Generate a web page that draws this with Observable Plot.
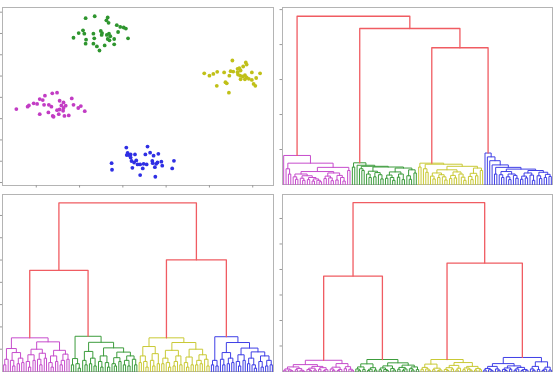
<!DOCTYPE html>
<html><head><meta charset="utf-8">
<script src="https://cdn.jsdelivr.net/npm/d3@7"></script>
<script src="https://cdn.jsdelivr.net/npm/@observablehq/plot@0.6"></script>
<style>
body{margin:0;background:#fff;}
#wrap{position:relative;width:558px;height:375px;overflow:hidden;background:#fff;}
.panel{position:absolute;}
</style></head><body><div id="wrap"></div>
<script>
// ---------- scatter data (four blobs) ----------
const magentaX=[-1.63,-1.52,-1.80,-1.92,-1.85,-2.06,-2.17,-2.20,-2.46,-1.46,-1.37,-1.18,-1.82,-1.71,-1.65,-1.42,-1.32,-1.14,-0.97,-1.03,-0.88,-1.46,-1.38,-1.37,-1.92,-1.72,-1.62,-1.60,-1.48,-1.35,-1.25,-1.98,-1.52];
const magentaY=[0.19,0.22,0.08,-0.08,-0.13,-0.28,-0.38,-0.44,-0.55,-0.16,-0.24,-0.05,-0.35,-0.35,-0.44,-0.38,-0.39,-0.35,-0.41,-0.50,-0.65,-0.57,-0.63,-0.50,-0.79,-0.71,-0.87,-0.91,-0.79,-0.87,-0.85,-0.31,-0.60];
const greenX=[-0.86,-0.65,-0.35,-0.38,-0.33,-0.14,-0.06,0.02,0.07,-0.11,-0.92,-1.02,-1.14,-0.85,-0.86,-0.68,-0.66,-0.51,-0.48,-0.49,-0.37,-0.32,-0.29,-0.35,-0.31,-0.20,0.12,-0.68,-0.60,-0.54,-0.42,-0.20,-0.89];
const greenY=[3.72,3.81,3.75,3.62,3.50,3.39,3.31,3.28,3.23,3.07,3.15,3.02,2.80,2.71,2.52,2.99,2.77,3.12,3.02,2.93,2.93,2.99,2.87,2.74,2.68,2.74,2.77,2.52,2.39,2.20,2.44,2.49,2.99];
const yellowX=[2.53,2.84,2.86,2.78,2.65,2.69,2.55,2.72,1.88,2.00,2.09,2.18,2.34,2.46,2.66,2.71,2.77,2.82,2.86,2.98,3.17,3.08,2.98,2.91,2.82,2.72,2.49,2.37,2.40,2.17,3.02,3.06,2.45,2.65];
const yellowY=[1.73,1.64,1.54,1.45,1.34,1.37,1.21,1.26,1.13,1.02,1.10,1.20,1.17,1.02,1.07,1.02,0.98,1.04,0.94,1.17,1.13,0.91,0.82,0.87,0.85,0.85,1.23,0.71,0.66,0.54,0.63,0.54,0.22,1.18];
const blueX=[0.08,0.57,0.11,0.14,0.18,0.28,0.52,0.63,0.71,0.82,0.18,0.20,0.31,0.26,0.40,0.48,0.55,0.68,0.69,0.77,0.80,0.89,0.91,-0.26,-0.25,0.22,0.46,0.74,1.14,1.18,0.40,0.75,0.34,0.09];
const blueY=[-2.36,-2.31,-2.61,-2.71,-2.68,-2.68,-2.68,-2.60,-2.74,-2.65,-2.83,-2.99,-2.96,-3.06,-3.15,-3.12,-3.15,-2.99,-3.09,-3.12,-3.06,-3.02,-3.21,-3.09,-3.40,-3.31,-3.34,-3.28,-3.34,-2.98,-3.65,-3.73,-3.15,-2.71];
const scatterXTicks=[-2,-1,0,1,2,3];
const scatterYTicks=[-4,-3,-2,-1,0,1,2,3,4];

// ---------- dendrograms: node = [height, left, right], leaf = 0 ----------
// single linkage (top right)
const singleTop=[4.81,"m",[4.46,"g",[3.91,"y","b"]]];
const singleM=[0.83,0,[0.61,[0.45,0,[0.3,0,0]],[0.49,[0.37,[0.3,[0.22,0,[0.15,0,0]],[0.25,[0.18,0,[0.12,0,0]],[0.2,[0.14,0,0],[0.16,[0.1,0,0],[0.12,0,[0.08,0,0]]]]]],[0.33,[0.24,[0.17,0,0],[0.19,0,[0.11,0,0]]],[0.26,[0.13,0,0],[0.2,0,[0.1,0,0]]]]],[0.4,0,0]]]];
const singleG=[0.62,[0.5,0,0],[0.55,0,[0.52,[0.45,0,[0.4,0,0]],[0.5,[0.38,[0.3,0,[0.2,0,0]],[0.34,[0.22,0,0],[0.28,0,[0.16,0,0]]]],[0.47,[0.36,[0.27,[0.18,0,0],[0.2,0,[0.12,0,0]]],[0.3,[0.21,0,0],[0.14,0,0]]],[0.42,[0.25,0,[0.15,0,0]],[0.33,0,0]]]]]]];
const singleY=[0.61,[0.5,0,0],[0.58,[0.45,0,[0.35,0,0]],[0.52,[0.42,[0.33,[0.24,0,[0.16,0,0]],[0.28,[0.2,0,0],[0.22,0,[0.13,0,0]]]],[0.36,[0.26,[0.17,0,0],[0.19,0,0]],[0.3,0,[0.21,0,[0.12,0,0]]]]],[0.47,[0.32,[0.23,0,[0.14,0,0]],[0.25,0,0]],[0.4,0,0]]]]];
const singleB=[0.9,0,[0.79,0,[0.68,0,[0.56,0,[0.49,[0.3,0,0],[0.44,[0.37,[0.28,0,[0.2,0,0]],[0.3,[0.22,0,[0.14,0,0]],[0.26,0,[0.18,0,0]]]],[0.4,[0.33,[0.24,[0.15,0,0],[0.19,0,0]],[0.27,0,[0.12,0,0]]],[0.35,[0.25,0,[0.17,0,0]],[0.29,[0.2,0,0],[0.23,0,0]]]]]]]]]];
const singleTicks=[1,2,3,4,5];

// complete linkage (bottom left)
const completeTop=[7.56,[4.54,"m","g"],[5.01,"y","b"]];
const completeM=[1.51,[1.03,[0.55,[0.3,0,0],0],[0.85,[0.5,0,[0.25,0,0]],[0.6,[0.35,0,0],[0.4,0,0]]]],[1.33,[1.0,[0.75,[0.45,0,[0.2,0,0]],[0.5,0,0]],[0.82,[0.55,0,[0.3,0,0]],[0.6,0,0]]],[0.95,[0.7,[0.4,0,[0.2,0,0]],[0.45,0,0]],[0.78,[0.5,[0.3,0,0],0],[0.55,0,0]]]]];
const completeG=[1.58,[0.58,[0.3,0,0],[0.35,0,[0.15,0,0]]],[1.31,[0.9,[0.5,0,[0.3,0,0]],[0.6,[0.35,0,0],[0.25,0,0]]],[1.06,[0.7,[0.45,0,[0.2,0,0]],[0.4,0,[0.2,0,0]]],[0.87,[0.62,[0.35,0,[0.25,0,0]],[0.45,0,0]],[0.7,[0.5,[0.3,0,0],[0.25,0,0]],[0.55,0,[0.3,0,0]]]]]]];
const completeY=[1.51,[1.12,[0.7,[0.4,0,0],[0.45,0,[0.2,0,0]]],[0.8,[0.5,0,[0.25,0,0]],[0.35,0,0]]],[1.3,[0.95,[0.6,[0.35,0,0],[0.4,0,[0.2,0,0]]],[0.7,[0.45,[0.25,0,0],0],[0.3,0,0]]],[1.0,[0.65,[0.4,0,[0.2,0,0]],[0.3,0,0]],[0.75,[0.5,[0.3,0,0],[0.35,0,0]],[0.55,0,[0.25,0,0]]]]]];
const completeB=[1.56,[0.5,[0.3,0,0],[0.25,0,0]],[1.3,[0.85,[0.55,0,[0.3,0,0]],[0.6,[0.35,0,0],[0.4,0,0]]],[1.05,[0.75,[0.45,0,[0.25,0,0]],[0.5,0,0]],[0.88,[0.6,[0.35,0,0],[0.3,0,[0.15,0,0]]],[0.7,[0.45,0,[0.2,0,0]],[0.5,[0.25,0,0],[0.3,0,0]]]]]]];
const completeTicks=[1,2,3,4,5,6,7];

// ward linkage (bottom right)
const wardTop=[6.62,[3.74,"m","g"],[4.25,"y","b"]];
const wardM=[0.44,[0.27,[0.18,[0.1,[0.05,0,0],[0.06,0,[0.03,0,0]]],[0.12,[0.07,0,0],[0.05,0,[0.02,0,0]]]],[0.2,[0.13,[0.08,0,[0.04,0,0]],[0.06,0,0]],[0.15,[0.09,0,0],[0.07,[0.03,0,0],0]]]],[0.31,[0.17,[0.1,0,[0.05,0,0]],[0.08,[0.04,0,0],0]],[0.19,[0.11,0,0],[0.09,0,[0.05,0,0]]]]];
const wardG=[0.47,[0.3,[0.18,[0.1,0,[0.05,0,0]],[0.08,0,0]],[0.15,[0.09,[0.04,0,0],0],[0.06,0,0]]],[0.34,[0.22,[0.14,[0.07,0,0],[0.08,0,[0.04,0,0]]],[0.12,0,[0.06,0,0]]],[0.25,[0.16,[0.09,0,0],[0.1,[0.05,0,0],0]],[0.18,[0.11,0,[0.06,0,0]],[0.08,0,0]]]]];
const wardY=[0.47,[0.29,[0.16,[0.09,0,0],[0.1,0,[0.05,0,0]]],[0.13,[0.07,0,0],[0.06,[0.03,0,0],0]]],[0.35,[0.24,[0.15,[0.08,0,[0.04,0,0]],[0.1,0,0]],[0.13,[0.06,0,0],0]],[0.2,[0.14,[0.07,0,0],[0.09,0,[0.05,0,0]]],[0.12,[0.06,0,0],[0.07,0,0]]]]];
const wardB=[0.55,[0.31,[0.2,[0.12,[0.06,0,0],[0.07,0,[0.03,0,0]]],[0.1,0,[0.05,0,0]]],[0.22,[0.14,[0.08,0,[0.04,0,0]],[0.09,0,0]],[0.16,[0.1,[0.05,0,0],0],[0.08,[0.04,0,0],[0.05,0,0]]]]],[0.38,[0.2,[0.1,0,[0.05,0,0]],[0.08,0,0]],[0.17,[0.09,[0.04,0,0],0],[0.06,0,0]]]];
const wardTicks=[1,2,3,4,5,6];

// ---------- styling ----------
const dotColors={m:"#c23cc4",g:"#2e952e",y:"#c0c018",b:"#2f2fe4"};
const lineColors={m:"#c64ccc",g:"#3c9c3c",y:"#c9c935",b:"#3f3fe6"};
const linkRed="#f05c62";
const frameColor="#b4b4b4";
const wrap=document.getElementById("wrap");

function dendroRows(top,subtrees){
  const rows=[];let leaf=0,id=0;
  function walk(node,key){
    if(typeof node==="string") return walk(subtrees[node],node);
    if(node===0){const x=leaf*10+5;leaf++;return {x,h:0};}
    const [h,L,R]=node;
    const a=walk(L,key),b=walk(R,key);
    const c=key?lineColors[key]:linkRed,w=key?1:1.3,k=id++;
    rows.push({k,x:a.x,y:a.h,c,w},{k,x:a.x,y:h,c,w},{k,x:b.x,y:h,c,w},{k,x:b.x,y:b.h,c,w});
    return {x:(a.x+b.x)/2,h};
  }
  walk(top,null);
  return {rows,n:leaf};
}

function place(left,top,svg){
  const d=document.createElement("div");d.className="panel";
  d.style.left=left+"px";d.style.top=top+"px";d.append(svg);wrap.append(d);
}

// ---------- scatter panel ----------
const pts=[];
[["m",magentaX,magentaY],["g",greenX,greenY],["y",yellowX,yellowY],["b",blueX,blueY]]
  .forEach(([k,xs,ys])=>d3.zip(xs,ys).forEach(([x,y])=>pts.push({x,y,c:dotColors[k]})));
place(0,0,Plot.plot({
  width:279,height:190,marginLeft:2,marginRight:6,marginTop:7,marginBottom:5,
  x:{domain:[-2.78,3.48],label:null},y:{domain:[-4.14,4.22],label:null},
  color:{type:"identity"},
  marks:[
    Plot.frame({stroke:frameColor}),
    Plot.axisX(scatterXTicks,{tickSize:2.5,tickFormat:()=>"",stroke:"#999",label:null}),
    Plot.axisY(scatterYTicks,{tickSize:2.5,tickFormat:()=>"",stroke:"#999",label:null}),
    Plot.dot(pts,{x:"x",y:"y",fill:"c",r:1.9})
  ]
}));

// ---------- dendrogram panels ----------
function dendroPanel(left,top,mt,mb,ml,top_,subs,yTop,ticks){
  const {rows,n}=dendroRows(top_,subs);
  const thin=rows.filter(d=>d.w===1),thick=rows.filter(d=>d.w!==1);
  place(left,top,Plot.plot({
    width:279,height:(top===0?190:187),marginLeft:ml,marginRight:6,marginTop:mt,marginBottom:mb,
    x:{domain:[0,n*10],axis:null,label:null},y:{domain:[0,yTop],label:null},
    color:{type:"identity"},
    marks:[
      Plot.frame({stroke:frameColor}),
      Plot.axisY(ticks,{tickSize:2.5,tickFormat:()=>"",stroke:"#999",label:null}),
      Plot.line(thin,{x:"x",y:"y",z:"k",stroke:"c",strokeWidth:1}),
      Plot.line(thick,{x:"x",y:"y",z:"k",stroke:"c",strokeWidth:1.3})
    ]
  }));
}
dendroPanel(279,0,7,6,3,singleTop,{m:singleM,g:singleG,y:singleY,b:singleB},5.06,singleTicks);
dendroPanel(0,188,6,4,2,completeTop,{m:completeM,g:completeG,y:completeY,b:completeB},7.94,completeTicks);
dendroPanel(279,188,6,4,3,wardTop,{m:wardM,g:wardG,y:wardY,b:wardB},6.94,wardTicks);
</script></body></html>
